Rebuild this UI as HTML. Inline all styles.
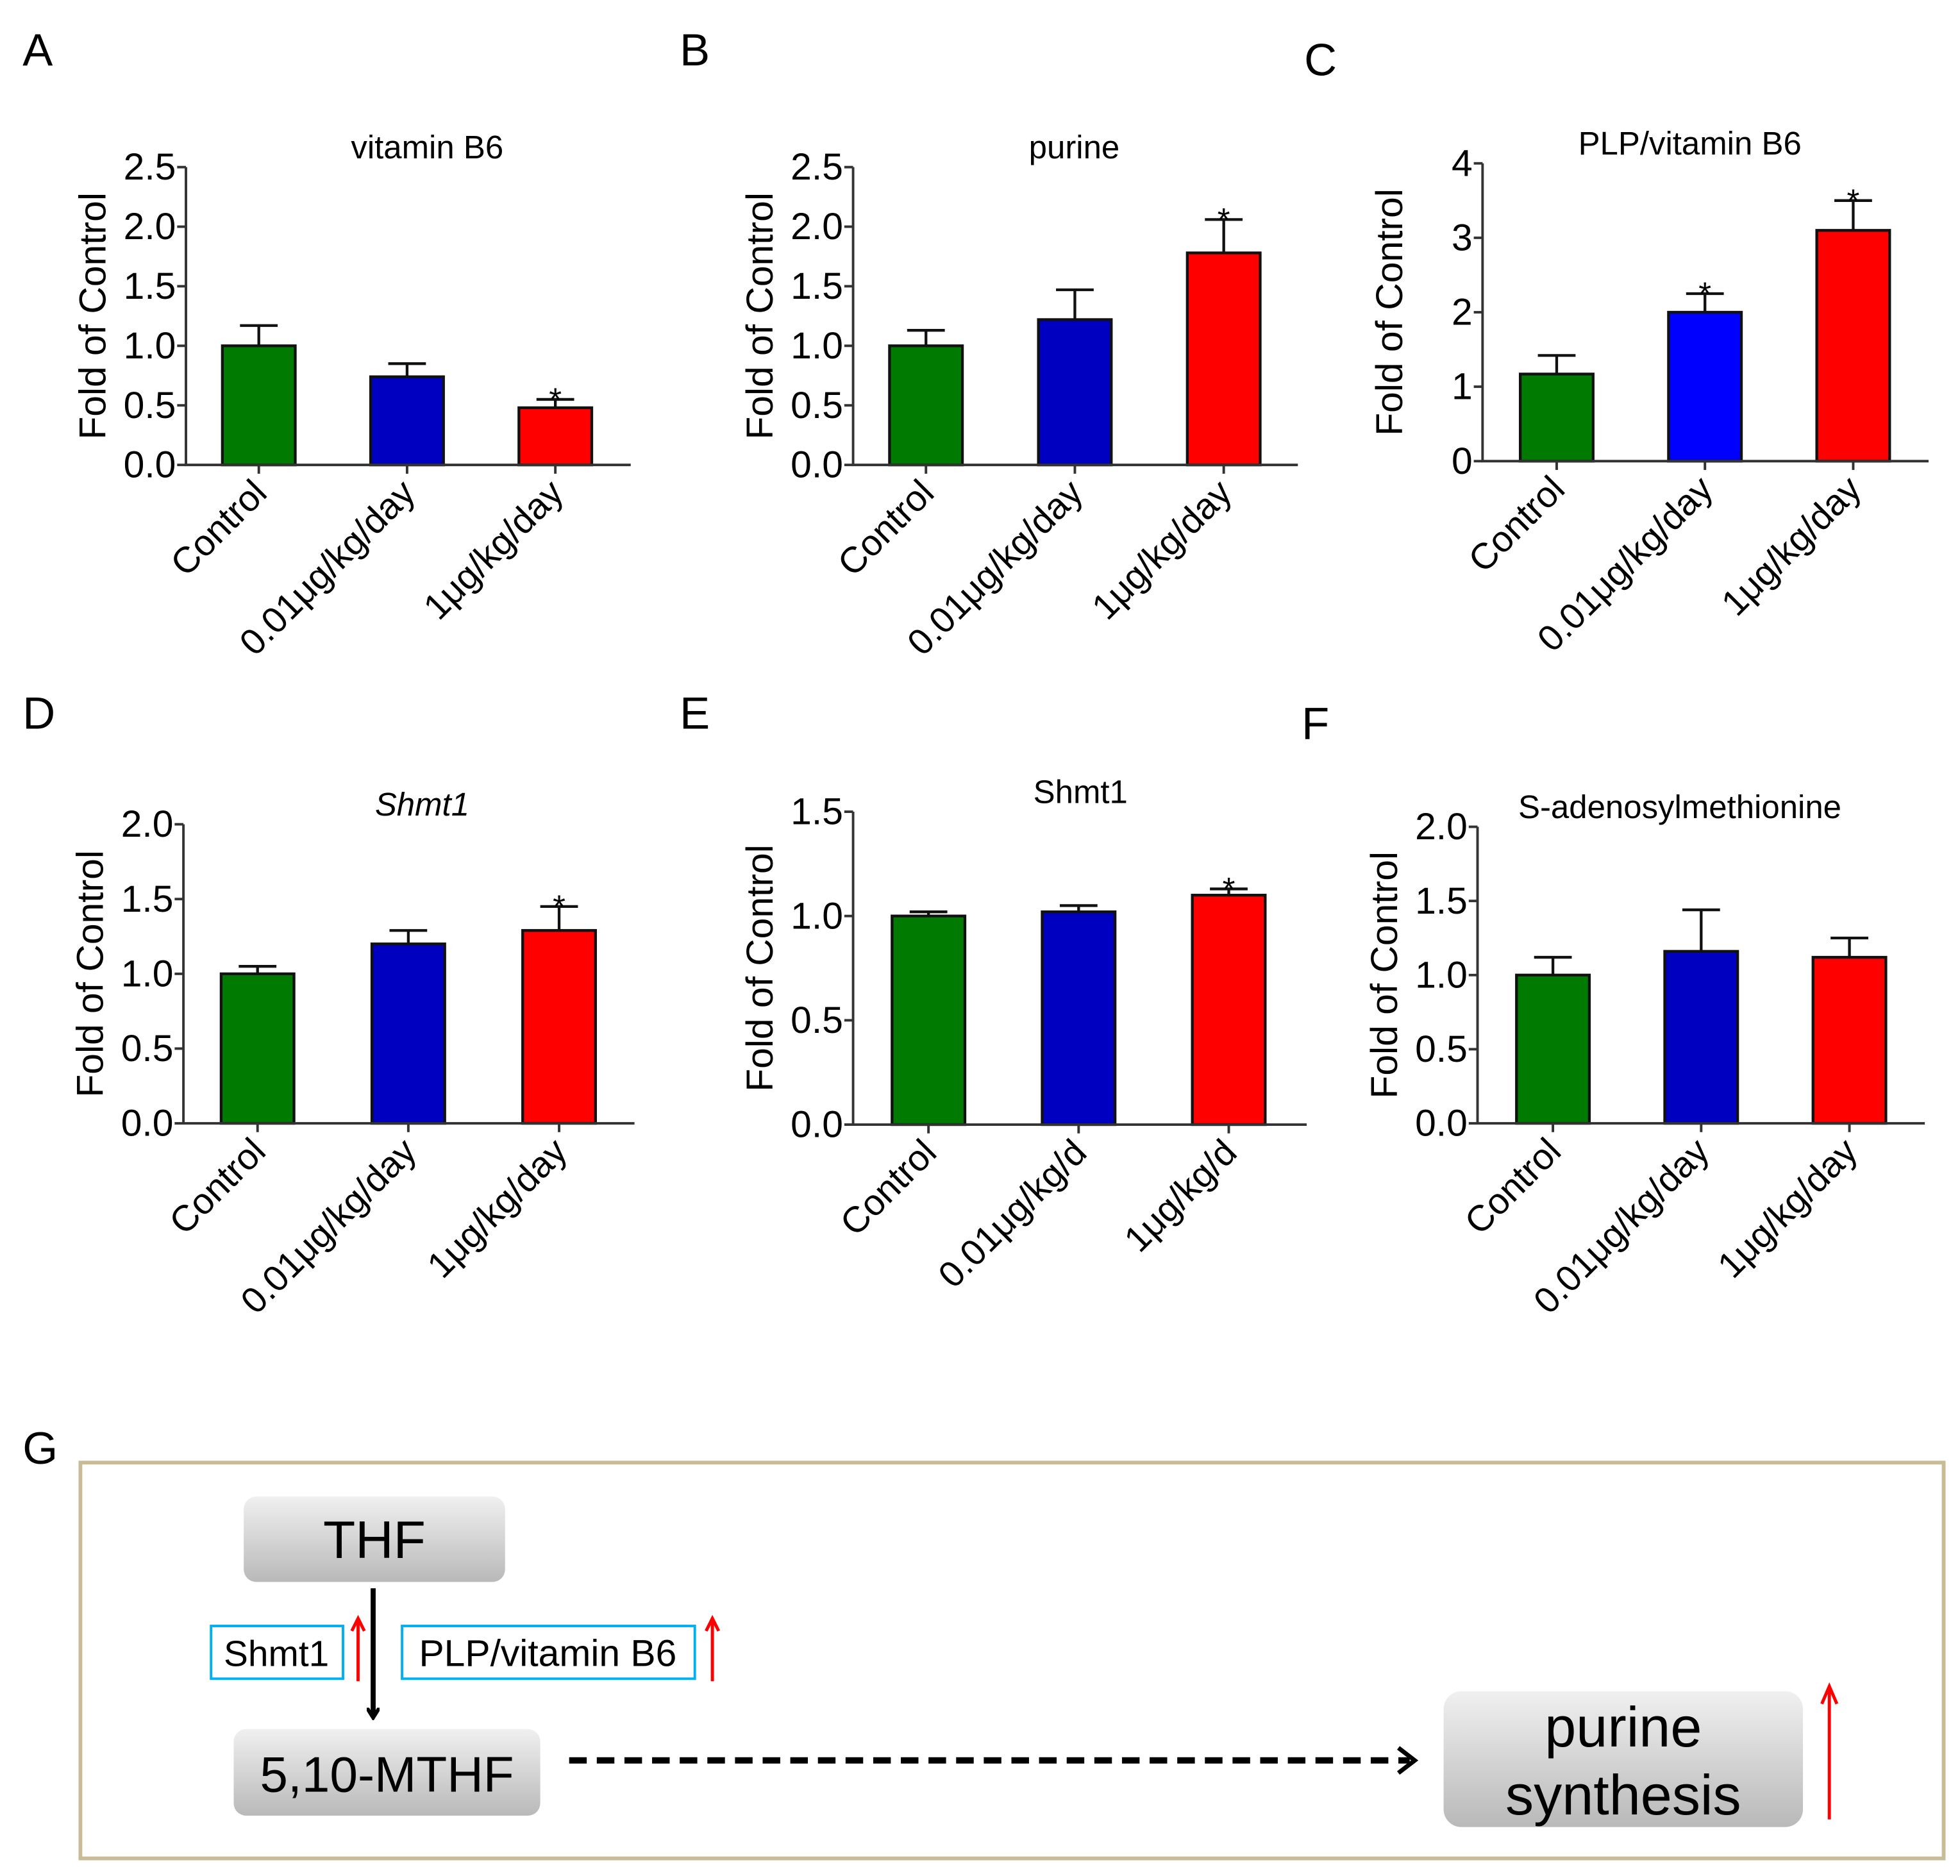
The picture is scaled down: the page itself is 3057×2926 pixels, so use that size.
<!DOCTYPE html>
<html><head><meta charset="utf-8"><style>
html,body{margin:0;padding:0;background:#fff;}
svg{display:block;font-family:"Liberation Sans",Arial,sans-serif;}
</style></head><body>
<svg id="fig" width="3057" height="2926" viewBox="0 0 1560 1493" preserveAspectRatio="none" xmlns="http://www.w3.org/2000/svg">
<defs>
<linearGradient id="gbox" x1="0" y1="0" x2="0" y2="1">
<stop offset="0" stop-color="#f0f0f0"/><stop offset="1" stop-color="#b9b9b9"/>
</linearGradient>
<marker id="ah" markerWidth="10" markerHeight="10" refX="7" refY="5" orient="auto" markerUnits="userSpaceOnUse"><path d="M0,0 L8,5 L0,10" fill="none" stroke="#000" stroke-width="3"/></marker>
</defs>
<g id="charts"></g>
<g id="panel-g">
<text x="18" y="1165" font-size="36">G</text>
<rect x="64" y="1164" width="1483" height="315" fill="none" stroke="#c8bc96" stroke-width="3"/>
<rect x="194" y="1191" width="208" height="68" rx="10" fill="url(#gbox)"/>
<text x="298" y="1240" font-size="42" text-anchor="middle">THF</text>
<rect x="186" y="1376" width="244" height="69" rx="10" fill="url(#gbox)"/>
<text x="308" y="1426" font-size="40" text-anchor="middle">5,10-MTHF</text>
<rect x="1149" y="1346" width="286" height="108" rx="14" fill="url(#gbox)"/>
<text x="1292" y="1390" font-size="45" text-anchor="middle"><tspan x="1292">purine</tspan><tspan x="1292" dy="54">synthesis</tspan></text>
<line x1="297" y1="1264" x2="297" y2="1366" stroke="#000" stroke-width="4" marker-end="url(#ah)"/>
<rect x="168" y="1294" width="105" height="42" fill="#fff" stroke="#00b0f0" stroke-width="2"/>
<text x="220" y="1326" font-size="29" text-anchor="middle">Shmt1</text>
<rect x="320" y="1294" width="233" height="42" fill="#fff" stroke="#00b0f0" stroke-width="2"/>
<text x="436" y="1326" font-size="30" text-anchor="middle">PLP/vitamin B6</text>
<g stroke="red" stroke-width="2.5" fill="none">
<path d="M285,1338 V1290 M280,1298 L285,1288 L290,1298"/>
<path d="M567,1338 V1290 M562,1298 L567,1288 L572,1298"/>
<path d="M1456,1448 V1344 M1450,1356 L1456,1342 L1462,1356"/>
</g>
<line x1="453" y1="1401" x2="1122" y2="1401" stroke="#000" stroke-width="5" stroke-dasharray="14,8"/>
<path d="M1113,1391 L1126,1401 L1113,1411" fill="none" stroke="#000" stroke-width="3.5"/>
</g>
</svg>
<script>
var catsA=["Control","0.01μg/kg/day","1μg/kg/day"];
var valsA=[1.0,0.74,0.48];
var errsA=[1.17,0.85,0.55];
var starsA=[false,false,true];
var ticksA=["0.0","0.5","1.0","1.5","2.0","2.5"];
var valsB=[1.0,1.22,1.78];
var errsB=[1.13,1.47,2.06];
var starsB=[false,false,true];
var ticksB=["0.0","0.5","1.0","1.5","2.0","2.5"];
var valsC=[1.17,2.0,3.1];
var errsC=[1.42,2.25,3.5];
var starsC=[false,true,true];
var ticksC=["0","1","2","3","4"];
var valsD=[1.0,1.2,1.29];
var errsD=[1.05,1.29,1.45];
var starsD=[false,false,true];
var ticksD=["0.0","0.5","1.0","1.5","2.0"];
var catsE=["Control","0.01μg/kg/d","1μg/kg/d"];
var valsE=[1.0,1.02,1.1];
var errsE=[1.02,1.05,1.13];
var starsE=[false,false,true];
var ticksE=["0.0","0.5","1.0","1.5"];
var valsF=[1.0,1.16,1.12];
var errsF=[1.12,1.44,1.25];
var starsF=[false,false,false];
var ticksF=["0.0","0.5","1.0","1.5","2.0"];

var NS="http://www.w3.org/2000/svg";
var root=document.getElementById('charts');
function mk(tag,attrs,parent){var e=document.createElementNS(NS,tag);for(var k in attrs)e.setAttribute(k,attrs[k]);parent.appendChild(e);return e;}
function panel(p){
  var g=mk('g',{},root);
  
  
  var maxV=parseFloat(p.ticks[p.ticks.length-1]);
  function y(v){return p.y0-(v/maxV)*(p.y0-p.yTop);}
  function x(i){return p.c0+p.step*i;}
  var L=mk('text',{x:p.lx,y:p.ly,'font-size':36},g);L.textContent=p.id.toUpperCase();
  
  
  var t=mk('text',{x:p.tx,y:p.yTop-7,'font-size':26,'text-anchor':'middle','font-style':p.italic?'italic':'normal'},g);t.textContent=p.title;
  
  
  var yl=mk('text',{x:0,y:0,'font-size':30,'text-anchor':'middle',transform:'translate('+(p.ax-64)+','+((p.y0+p.yTop)/2)+') rotate(-90)'},g);yl.textContent="Fold of Control";
  
  
  for(var i=0;i<p.ticks.length;i++){
    var v=parseFloat(p.ticks[i]);var yy=y(v);
    var tk=mk('line',{x1:p.ax-7,x2:p.ax,y1:yy,y2:yy,stroke:'#333','stroke-width':2},g);
    
    
    var tl=mk('text',{x:p.ax-8,y:yy+10,'font-size':30,'text-anchor':'end'},g);tl.textContent=p.ticks[i];
    
    
  }
  var cols=['#007a00',p.blue2?'#0000ff':'#0000c0','#ff0000'];
  for(var i=0;i<3;i++){
    var cx=x(i),w=58;
    var eb=mk('path',{d:'M'+cx+','+y(p.vals[i])+' V'+y(p.errs[i])+' M'+(cx-15)+','+y(p.errs[i])+' H'+(cx+15),stroke:'#111','stroke-width':2.2,fill:'none'},g);
    
    
    var b=mk('rect',{x:cx-w/2,y:y(p.vals[i]),width:w,height:p.y0-y(p.vals[i]),fill:cols[i],stroke:'#111','stroke-width':2.2},g);
    
    
    if(p.stars[i]){var s=mk('text',{x:cx,y:y(p.errs[i])+9,'font-size':26,'text-anchor':'middle'},g);s.textContent='*';
      
      }
    var xt=mk('line',{x1:cx,x2:cx,y1:p.y0,y2:p.y0+7,stroke:'#333','stroke-width':2},g);
    
    
    var xl=mk('text',{x:0,y:0,'font-size':29,'text-anchor':'end',transform:'translate('+(cx+8)+','+(p.y0+24)+') rotate(-45)'},g);xl.textContent=p.cats[i];
    
    
  }
  var ax=mk('path',{d:'M'+p.ax+','+p.yTop+' V'+p.y0+' H'+p.xEnd,stroke:'#333','stroke-width':2,fill:'none'},g);
  
  
}
panel({id:'a',title:'vitamin B6',cats:catsA,vals:valsA,errs:errsA,stars:starsA,ticks:ticksA,ax:148,yTop:133,y0:370,xEnd:502,c0:206,step:118,lx:18,ly:52,tx:340});
panel({id:'b',title:'purine',cats:catsA,vals:valsB,errs:errsB,stars:starsB,ticks:ticksB,ax:679,yTop:133,y0:370,xEnd:1033,c0:737,step:118.5,lx:541,ly:52,tx:855});
panel({id:'c',title:'PLP/vitamin B6',cats:catsA,vals:valsC,errs:errsC,stars:starsC,ticks:ticksC,ax:1180,yTop:130,y0:367,xEnd:1535,c0:1239,step:118,lx:1038,ly:60,tx:1345,blue2:true});
panel({id:'d',title:'Shmt1',italic:true,cats:catsA,vals:valsD,errs:errsD,stars:starsD,ticks:ticksD,ax:146,yTop:656,y0:894,xEnd:505,c0:205,step:120,lx:18,ly:580,tx:336});
panel({id:'e',title:'Shmt1',cats:catsE,vals:valsE,errs:errsE,stars:starsE,ticks:ticksE,ax:679,yTop:646,y0:895,xEnd:1040,c0:739,step:119.5,lx:541,ly:580,tx:860});
panel({id:'f',title:'S-adenosylmethionine',cats:catsA,vals:valsF,errs:errsF,stars:starsF,ticks:ticksF,ax:1176,yTop:658,y0:894,xEnd:1532,c0:1236,step:118,lx:1036,ly:588,tx:1337});
</script>
</body></html>
